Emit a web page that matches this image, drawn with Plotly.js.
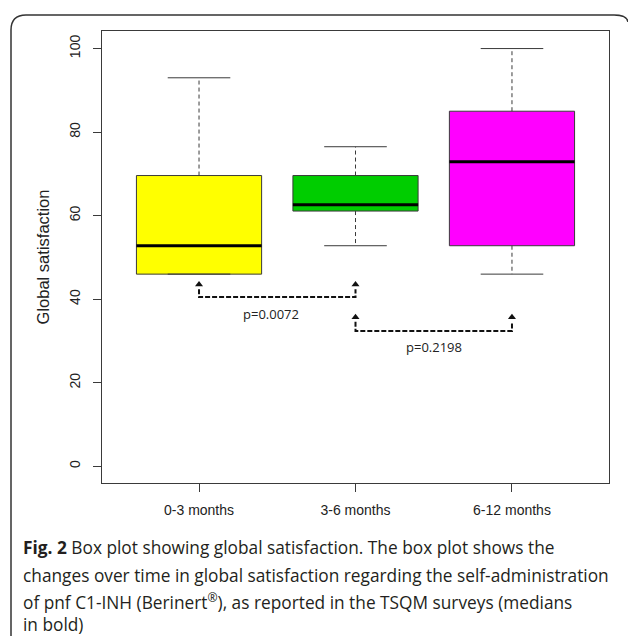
<!DOCTYPE html>
<html>
<head>
<meta charset="utf-8">
<script src="https://cdn.plot.ly/plotly-3.0.1.min.js"></script>
<style>html,body{margin:0;padding:0;background:#fff;}#chart{width:628px;height:636px;}</style>
</head>
<body>
<div id="chart"></div>
<script>
// ---- data ----
const categories = ['0-3 months', '3-6 months', '6-12 months'];
const q1Values = [46.0, 61.1, 52.8];
const medianValues = [52.8, 62.6, 72.9];
const q3Values = [69.6, 69.6, 85.0];
const minValues = [46.0, 52.8, 46.0];
const maxValues = [93.0, 76.5, 100.0];
const yTickValues = [0, 20, 40, 60, 80, 100];
const comparisonPairs = [[0, 1], [1, 2]];
const pLabels = ['p=0.0072', 'p=0.2198'];

// ---- styles / positions ----
const boxColors = ['#FFFF00', '#00CD00', '#FF00FF'];
const boxHalf = 0.4, capHalf = 0.2;
const bracketLevels = [{line: 40.5, base: 42.4, head: 43.5, text: 36.4, xshift: -6},
                       {line: 32.4, base: 34.6, head: 35.7, text: 28.6, xshift: 0}];

const xPos = categories.map((c, i) => i + 1);

const traces = [];
// boxes (IQR) as bars
traces.push({
  type: 'bar', x: xPos, base: q1Values, y: q3Values.map((v, i) => v - q1Values[i]),
  width: 2 * boxHalf, marker: {color: boxColors, line: {color: '#3a3a3a', width: 1}},
  hoverinfo: 'skip', showlegend: false
});
// whiskers (dashed)
const wx = [], wy = [];
xPos.forEach((x, i) => {
  wx.push(x, x, null, x, x, null);
  wy.push(q3Values[i], maxValues[i], null, q1Values[i], minValues[i], null);
});
traces.push({type: 'scatter', mode: 'lines', x: wx, y: wy,
  line: {color: '#3a3a3a', width: 1, dash: '4px,3px'}, hoverinfo: 'skip', showlegend: false});
// caps
const cx = [], cy = [];
xPos.forEach((x, i) => {
  cx.push(x - capHalf, x + capHalf, null, x - capHalf, x + capHalf, null);
  cy.push(maxValues[i], maxValues[i], null, minValues[i], minValues[i], null);
});
traces.push({type: 'scatter', mode: 'lines', x: cx, y: cy,
  line: {color: '#3a3a3a', width: 1}, hoverinfo: 'skip', showlegend: false});
// medians
const mx = [], my = [];
xPos.forEach((x, i) => {
  mx.push(x - boxHalf, x + boxHalf, null);
  my.push(medianValues[i], medianValues[i], null);
});
traces.push({type: 'scatter', mode: 'lines', x: mx, y: my,
  line: {color: '#000', width: 3}, hoverinfo: 'skip', showlegend: false});

// comparison brackets
const annotations = [];
comparisonPairs.forEach((pair, k) => {
  const a = xPos[pair[0]], b = xPos[pair[1]], lv = bracketLevels[k];
  traces.push({type: 'scatter', mode: 'lines', x: [a, a, b, b], y: [lv.base, lv.line, lv.line, lv.base],
    line: {color: '#111', width: 2, dash: '5px,2px'}, hoverinfo: 'skip', showlegend: false});
  traces.push({type: 'scatter', mode: 'markers', x: [a, b], y: [lv.head, lv.head],
    marker: {symbol: 'triangle-up', size: 7, color: '#111'}, hoverinfo: 'skip', showlegend: false});
  annotations.push({x: (a + b) / 2, y: lv.text, xref: 'x', yref: 'y', showarrow: false,
    text: pLabels[k], xshift: lv.xshift, font: {family: 'Open Sans, sans-serif', size: 13, color: '#222'}});
});

// caption
const L = 102, T = 31, PW = 507, PH = 452;
const px = v => (v - L) / PW, py = v => (T + PH - v) / PH;
const captionLines = [
  '<b>Fig. 2</b> Box plot showing global satisfaction. The box plot shows the',
  'changes over time in global satisfaction regarding the self-administration',
  'of pnf C1-INH (Berinert<sup>®</sup>), as reported in the TSQM surveys (medians',
  'in bold)'
];
const captionY = [547, 575, 601, 624];
captionLines.forEach((t, i) => annotations.push({
  x: px(21), y: py(captionY[i]), xref: 'paper', yref: 'paper', xanchor: 'left', yanchor: 'middle',
  showarrow: false, text: t, align: 'left',
  font: {family: 'Open Sans, sans-serif', size: 17.3, color: '#231f20'}
}));

const layout = {
  width: 628, height: 636,
  margin: {l: L, r: 628 - L - PW, t: T, b: 636 - T - PH},
  paper_bgcolor: '#fff', plot_bgcolor: '#fff',
  showlegend: false,
  font: {family: 'Liberation Sans, Arial, sans-serif', size: 14, color: '#222'},
  xaxis: {
    range: [0.38, 3.62], tickvals: xPos, ticktext: categories,
    showgrid: false, zeroline: false, showline: true, mirror: true, linecolor: '#3a3a3a', linewidth: 1,
    ticks: 'outside', ticklen: 8, tickcolor: '#3a3a3a', tickfont: {size: 14, color: '#222'},
    ticklabelstandoff: 6
  },
  yaxis: {
    range: [-4, 104.2], tickvals: yTickValues, tickangle: -90,
    showgrid: false, zeroline: false, showline: true, mirror: true, linecolor: '#3a3a3a', linewidth: 1,
    ticks: 'outside', ticklen: 8, tickcolor: '#3a3a3a', tickfont: {size: 14, color: '#222'},
    ticklabelstandoff: 7,
    title: {text: 'Global satisfaction', font: {size: 16.5, color: '#222'}, standoff: 13}
  },
  annotations: annotations,
  shapes: [{
    type: 'path', xref: 'paper', yref: 'paper', layer: 'above',
    path: `M ${px(11)},${py(640)} L ${px(11)},${py(30)} Q ${px(11)},${py(15)} ${px(26)},${py(15)} L ${px(614)},${py(15)} Q ${px(627)},${py(15)} ${px(628)},${py(22)}`,
    line: {color: '#333', width: 1.5}
  }]
};

Plotly.newPlot('chart', traces, layout, {displayModeBar: false, staticPlot: true});
</script>
</body>
</html>
